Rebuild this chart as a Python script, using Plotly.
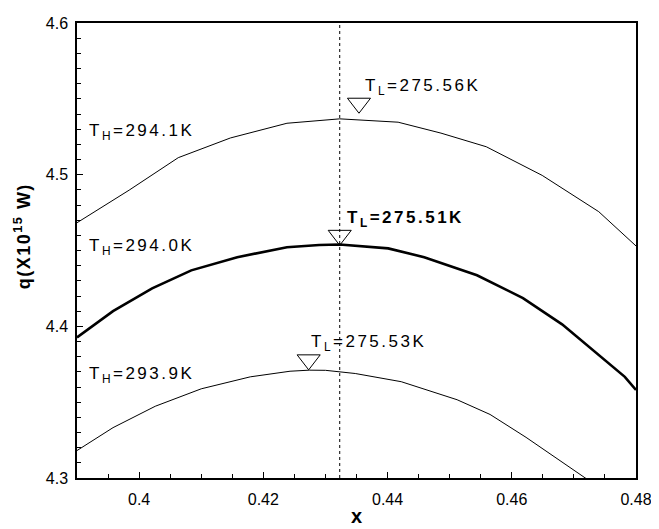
import plotly.graph_objects as go

# ---- data ----
x_top = [0.39, 0.3984, 0.4063, 0.4147, 0.4238, 0.4323, 0.4417, 0.4486, 0.4559, 0.4649, 0.4740, 0.48]
q_top = [4.4683, 4.4898, 4.5112, 4.5242, 4.5339, 4.5368, 4.5346, 4.5274, 4.5184, 4.4995, 4.4756, 4.4530]

x_mid = [0.39, 0.3958, 0.4021, 0.4084, 0.4158, 0.4238, 0.4290, 0.4323, 0.4401, 0.4459, 0.4544,
         0.4618, 0.4681, 0.4739, 0.4782, 0.48]
q_mid = [4.3927, 4.4100, 4.4250, 4.4369, 4.4456, 4.4521, 4.4536, 4.4540, 4.4514, 4.4456, 4.4337,
         4.4186, 4.4013, 4.3818, 4.3667, 4.3581]

x_bot = [0.39, 0.3958, 0.4026, 0.4100, 0.4179, 0.4243, 0.4274, 0.4300, 0.4348, 0.4422, 0.4512,
         0.4565, 0.4623, 0.4723]
q_bot = [4.3181, 4.3332, 4.3473, 4.3588, 4.3667, 4.3704, 4.3711, 4.3710, 4.3689, 4.3635, 4.3516,
         4.3419, 4.3268, 4.2987]

tri_x = [0.4354, 0.4323, 0.4273]
tri_q = [4.5471, 4.4600, 4.3779]

x_opt = 0.4323

tl_labels = ["T<sub>L</sub>=275.56K", "<b>T<sub>L</sub>=275.51K</b>", "T<sub>L</sub>=275.53K"]
tl_x = [0.4361, 0.4331, 0.4274]
tl_q = [4.5579, 4.4711, 4.3888]

th_labels = ["T<sub>H</sub>=294.1K", "T<sub>H</sub>=294.0K", "T<sub>H</sub>=293.9K"]
th_x = [0.3916, 0.3916, 0.3916]
th_q = [4.5284, 4.4521, 4.3676]

FONT = "Liberation Sans, Arial, sans-serif"

fig = go.Figure()
fig.add_trace(go.Scatter(x=x_top, y=q_top, mode="lines", line=dict(color="black", width=1)))
fig.add_trace(go.Scatter(x=x_mid, y=q_mid, mode="lines", line=dict(color="black", width=2.6)))
fig.add_trace(go.Scatter(x=x_bot, y=q_bot, mode="lines", line=dict(color="black", width=1)))
fig.add_trace(go.Scatter(x=tri_x, y=tri_q, mode="markers",
                         marker=dict(symbol="triangle-down-open", size=20, color="black",
                                     line=dict(color="black", width=1))))

fig.add_shape(type="line", x0=x_opt, x1=x_opt, y0=4.3, y1=4.6, xref="x", yref="y",
              line=dict(color="black", width=1, dash="dot"))

anns = []
for t, x, y in zip(tl_labels + th_labels, tl_x + th_x, tl_q + th_q):
    anns.append(dict(x=x, y=y, xref="x", yref="y", xanchor="left", yanchor="middle",
                     text='<span style="letter-spacing:2.5px">' + t + "</span>",
                     showarrow=False, font=dict(family=FONT, size=17, color="black")))

anns.append(dict(x=-0.097, y=0.531, xref="paper", yref="paper", textangle=-90,
                 xanchor="center", yanchor="middle", showarrow=False,
                 text='<span style="letter-spacing:1.5px"><b>q(X10<sup>15</sup> W)</b></span>',
                 font=dict(family=FONT, size=18, color="black")))
anns.append(dict(x=0.5, y=-0.084, xref="paper", yref="paper",
                 xanchor="center", yanchor="middle", showarrow=False,
                 text="<b>x</b>", font=dict(family=FONT, size=20, color="black")))

# The page body has an 8px margin; size/margins chosen so the plot area
# lands at x 77..645, y 15..478 in the 659x529 window.
fig.update_layout(
    width=651, height=521,
    margin=dict(l=69, r=14, t=7, b=51),
    paper_bgcolor="white", plot_bgcolor="white",
    showlegend=False,
    annotations=anns,
    font=dict(family=FONT, color="black"),
    xaxis=dict(range=[0.39, 0.48], tickmode="linear", tick0=0.4, dtick=0.02,
               ticks="inside", ticklen=6, tickwidth=1, tickcolor="black",
               minor=dict(dtick=0.005, ticks="inside", ticklen=4, tickcolor="black", tickwidth=1),
               showline=True, linewidth=1.5, linecolor="black", mirror=True,
               showgrid=False, zeroline=False, ticklabeloverflow="allow",
               tickfont=dict(family=FONT, size=16, color="black"), ticklabelstandoff=6),
    yaxis=dict(range=[4.3, 4.6], tickmode="linear", tick0=4.3, dtick=0.1,
               ticks="inside", ticklen=6, tickwidth=1, tickcolor="black",
               minor=dict(dtick=0.01, ticks="inside", ticklen=4, tickcolor="black", tickwidth=1),
               showline=True, linewidth=1.5, linecolor="black", mirror=True,
               showgrid=False, zeroline=False, ticklabeloverflow="allow",
               tickfont=dict(family=FONT, size=16, color="black"), ticklabelstandoff=4),
)

fig.write_html("out.html")
